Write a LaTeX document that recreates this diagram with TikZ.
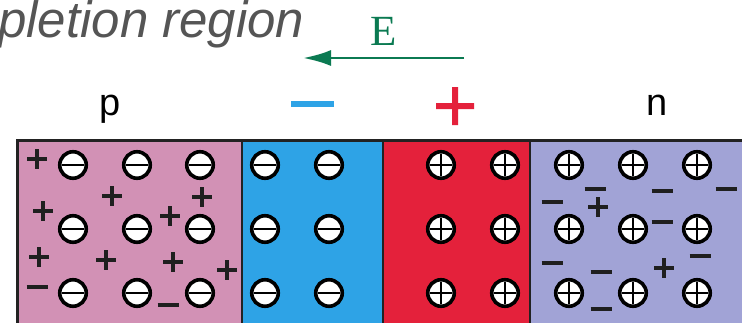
\documentclass[tikz,border=0pt]{standalone}
\usepackage{fontspec}
\setmainfont{Liberation Sans}
\newfontfamily\serifface{Liberation Serif}
\usetikzlibrary{arrows.meta}

\definecolor{pcol}{HTML}{D291B5}
\definecolor{dnegcol}{HTML}{2EA3E6}
\definecolor{dposcol}{HTML}{E4213B}
\definecolor{ncol}{HTML}{A1A3D6}
\definecolor{fieldcol}{HTML}{0B7A52}
\definecolor{titlecol}{HTML}{555555}
\definecolor{edgecol}{HTML}{222222}

\tikzset{
  ion/.style={circle, draw=black, line width=3.6pt, fill=white,
    minimum size=26.5pt, inner sep=0pt},
  ionneg/.style={ion, path picture={
    \draw[line width=2.8pt]
      ([xshift=-11pt]path picture bounding box.center) --
      ([xshift=11pt]path picture bounding box.center);}},
  ionpos/.style={ion, path picture={
    \draw[line width=2.8pt]
      ([xshift=-11pt]path picture bounding box.center) --
      ([xshift=11pt]path picture bounding box.center)
      ([yshift=-11pt]path picture bounding box.center) --
      ([yshift=11pt]path picture bounding box.center);}},
  chg/.style={line width=3.2pt, black!88},
  freeplus/.pic={\draw[chg] (-10,0) -- (10,0) (0,-10) -- (0,10);},
  freeminus/.pic={\draw[chg] (-10.5,0) -- (10.5,0);},
  label/.style={font=\fontsize{38}{38}\selectfont, text=black, inner sep=0pt}
}

\begin{document}
\begin{tikzpicture}[x=1pt, y=-1pt]
\clip (0,0) rectangle (742,322);
\fill[white] (0,0) rectangle (742,322);

% semiconductor regions
\fill[pcol]     (17,140)  rectangle (242,330);
\fill[dnegcol]  (242,140) rectangle (383,330);
\fill[dposcol]  (383,140) rectangle (530,330);
\fill[ncol]     (530,140) rectangle (760,330);
\draw[edgecol, line width=3pt] (17,330) -- (17,140) -- (760,140);
\draw[edgecol, line width=2pt] (242,140) -- (242,330)
                                (383,140) -- (383,330)
                                (530,140) -- (530,330);

% fixed ions
\foreach \y [count=\r] in {165,229,293} {
  \foreach \x [count=\c] in {73,137,200}
    \node[ionneg] (pa\r\c) at (\x,\y) {};
  \foreach \x [count=\c] in {265,329}
    \node[ionneg] (da\r\c) at (\x,\y) {};
  \foreach \x [count=\c] in {441,505}
    \node[ionpos] (dd\r\c) at (\x,\y) {};
  \foreach \x [count=\c] in {569,633,697}
    \node[ionpos] (nd\r\c) at (\x,\y) {};
}

% mobile holes and electrons in p
\foreach \x/\y in {37/159, 43/211, 112/196, 202/197, 170/216,
                   39/257, 106/260, 173/262, 227/270}
  \pic at (\x,\y) {freeplus};
\foreach \x/\y in {37/287, 168/305}
  \pic at (\x,\y) {freeminus};

% mobile electrons and holes in n
\foreach \x/\y in {595/189, 552/202, 662/191, 726/189, 662/222,
                   700/256, 552/263, 601/272, 601/309}
  \pic at (\x,\y) {freeminus};
\foreach \x/\y in {598/207, 664/268}
  \pic at (\x,\y) {freeplus};

% region labels
\node[label, anchor=base] (plab) at (110,115) {p};
\node[label, anchor=base] (nlab) at (657,115) {n};
\fill[dnegcol] (291,101) rectangle (334,107);
\fill[dposcol] (436,103) rectangle (474,109) (452,87) rectangle (458,125);

% title
\node[anchor=base west, inner sep=0pt, text=titlecol,
      font=\fontsize{51}{51}\selectfont\itshape] (title) at (-2,37) {pletion region};

% electric field
\node[anchor=base, inner sep=0pt, text=fieldcol,
      font=\serifface\fontsize{43}{43}\selectfont] (E) at (384,45) {E};
\coordinate (ea) at (464,58);
\coordinate (eb) at (303,58);
\draw[fieldcol, line width=2.8pt, -{Latex[length=28pt,width=16pt]}] (ea) -- (eb);
\end{tikzpicture}
\end{document}
